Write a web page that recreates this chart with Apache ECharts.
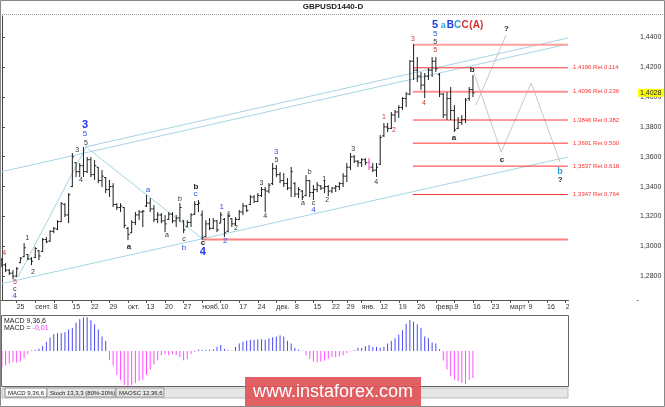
<!DOCTYPE html>
<html><head><meta charset="utf-8">
<script src="https://cdn.jsdelivr.net/npm/echarts@6/dist/echarts.min.js"></script>
<style>html,body{margin:0;padding:0;background:#fff}#c{width:665px;height:407px}</style>
</head><body><div id="c"></div>
<script>
// ---------------- DATA ----------------
const startDate = '2017-08-21';
const holidays = ['2017-12-25', '2018-01-01'];
const slotCount = 172;
const tickDates = ['2017-08-25','2017-09-01','2017-09-08','2017-09-15','2017-09-22','2017-09-29','2017-10-06','2017-10-13','2017-10-20','2017-10-27','2017-11-03','2017-11-10','2017-11-17','2017-11-24','2017-12-01','2017-12-08','2017-12-15','2017-12-22','2017-12-29','2018-01-05','2018-01-12','2018-01-19','2018-01-26','2018-02-02','2018-02-09','2018-02-16','2018-02-23','2018-03-02','2018-03-09','2018-03-16','2018-03-23'];
const tickLabels = ['25','сент.','8','15','22','29','окт.','13','20','27','нояб.','10','17','24','дек.','8','15','22','29','янв.','12','19','26','февр.','9','16','23','март','9','16','23'];
const priceTicks = [1.28,1.30,1.32,1.34,1.36,1.38,1.40,1.42,1.44];

const opens = [1.2910,1.2875,1.2840,1.2820,1.2800,1.2890,1.2930,1.2945,1.2915,1.2925,1.2970,1.2965,1.3045,1.3035,1.3100,1.3115,1.3165,1.3280,1.3210,1.3400,
1.3560,1.3500,1.3540,1.3500,1.3580,1.3480,1.3530,1.3440,1.3460,1.3380,1.3400,1.3280,1.3260,1.3260,1.3120,1.3090,1.3160,1.3210,1.3230,1.3270,
1.3290,1.3250,1.3180,1.3210,1.3170,1.3180,1.3215,1.3170,1.3190,1.3170,1.3130,1.3160,1.3215,1.3280,1.3210,1.3065,1.3150,1.3120,1.3170,1.3155,
1.3180,1.3100,1.3185,1.3150,1.3180,1.3230,1.3270,1.3280,1.3330,1.3300,1.3340,1.3380,1.3370,1.3420,1.3520,1.3480,1.3440,1.3420,1.3390,1.3420,
1.3350,1.3370,1.3340,1.3440,1.3360,1.3380,1.3405,1.3390,1.3400,1.3370,1.3390,1.3400,1.3420,1.3470,1.3530,1.3600,1.3570,1.3560,1.3580,1.3560,
1.3530,1.3510,1.3550,1.3740,1.3800,1.3790,1.3880,1.3900,1.3930,1.3990,1.4020,1.4240,1.4180,1.4140,1.4080,1.4140,1.4180,1.4240,1.4150,1.4020,
1.3880,1.3990,1.3910,1.3790,1.3830,1.3850,1.3990,1.4050];
const highs = [1.2921,1.2887,1.2847,1.2840,1.2860,1.2927,1.3021,1.2948,1.2927,1.2995,1.2974,1.3055,1.3062,1.3108,1.3129,1.3175,1.3296,1.3289,1.3356,1.3625,
1.3564,1.3558,1.3665,1.3598,1.3598,1.3578,1.3531,1.3511,1.3464,1.3444,1.3423,1.3289,1.3289,1.3263,1.3129,1.3175,1.3229,1.3243,1.3243,1.3343,
1.3323,1.3276,1.3229,1.3222,1.3209,1.3229,1.3229,1.3209,1.3289,1.3175,1.3175,1.3222,1.3303,1.3310,1.3240,1.3175,1.3189,1.3189,1.3175,1.3229,
1.3189,1.3222,1.3189,1.3196,1.3243,1.3289,1.3276,1.3343,1.3343,1.3356,1.3397,1.3397,1.3423,1.3558,1.3544,1.3497,1.3490,1.3457,1.3531,1.3430,
1.3397,1.3377,1.3477,1.3444,1.3410,1.3430,1.3410,1.3444,1.3410,1.3397,1.3410,1.3430,1.3490,1.3558,1.3625,1.3611,1.3578,1.3591,1.3591,1.3591,
1.3558,1.3558,1.3745,1.3826,1.3826,1.3899,1.3913,1.3946,1.4000,1.4033,1.4248,1.4355,1.4268,1.4167,1.4161,1.4194,1.4268,1.4268,1.4161,1.4027,
1.4033,1.4067,1.3946,1.3866,1.3879,1.3993,1.4067,1.4147];
const lows = [1.2860,1.2827,1.2807,1.2780,1.2793,1.2887,1.2927,1.2907,1.2874,1.2921,1.2907,1.2961,1.3021,1.3028,1.3088,1.3108,1.3162,1.3196,1.3155,1.3397,
1.3464,1.3464,1.3464,1.3490,1.3464,1.3444,1.3423,1.3397,1.3356,1.3330,1.3263,1.3243,1.3229,1.3122,1.3041,1.3088,1.3142,1.3175,1.3129,1.3263,
1.3229,1.3162,1.3155,1.3155,1.3095,1.3175,1.3155,1.3129,1.3162,1.3088,1.3129,1.3129,1.3209,1.3229,1.3041,1.3060,1.3108,1.3115,1.3095,1.3155,
1.3062,1.3095,1.3129,1.3136,1.3175,1.3209,1.3229,1.3276,1.3289,1.3296,1.3330,1.3229,1.3356,1.3410,1.3464,1.3423,1.3397,1.3377,1.3330,1.3330,
1.3323,1.3310,1.3336,1.3330,1.3310,1.3363,1.3377,1.3356,1.3336,1.3356,1.3363,1.3377,1.3397,1.3430,1.3511,1.3558,1.3531,1.3531,1.3544,1.3511,
1.3497,1.3464,1.3544,1.3732,1.3765,1.3785,1.3832,1.3859,1.3913,1.3933,1.4013,1.4114,1.4100,1.4047,1.3993,1.4114,1.4134,1.4167,1.4000,1.3859,
1.3846,1.3846,1.3765,1.3785,1.3812,1.3826,1.3975,1.4000];
const closes = [1.2875,1.2840,1.2820,1.2800,1.2850,1.2920,1.2990,1.2915,1.2900,1.2985,1.2935,1.3045,1.3030,1.3100,1.3120,1.3165,1.3285,1.3210,1.3345,1.3600,
1.3500,1.3540,1.3500,1.3580,1.3480,1.3540,1.3440,1.3470,1.3380,1.3400,1.3280,1.3260,1.3270,1.3140,1.3080,1.3160,1.3210,1.3230,1.3235,1.3290,
1.3250,1.3180,1.3210,1.3170,1.3150,1.3215,1.3170,1.3190,1.3260,1.3110,1.3160,1.3210,1.3280,1.3290,1.3060,1.3150,1.3120,1.3170,1.3110,1.3210,
1.3090,1.3200,1.3150,1.3180,1.3230,1.3270,1.3240,1.3330,1.3300,1.3340,1.3380,1.3370,1.3410,1.3520,1.3480,1.3440,1.3420,1.3390,1.3500,1.3350,
1.3380,1.3330,1.3440,1.3360,1.3380,1.3410,1.3390,1.3400,1.3370,1.3390,1.3400,1.3420,1.3470,1.3530,1.3600,1.3570,1.3560,1.3580,1.3560,1.3530,
1.3510,1.3530,1.3730,1.3800,1.3790,1.3880,1.3900,1.3930,1.3990,1.4020,1.4240,1.4180,1.4140,1.4080,1.4140,1.4180,1.4240,1.4190,1.4020,1.3880,
1.3990,1.3910,1.3780,1.3830,1.3850,1.3980,1.4050,1.4028];
const markedBar = 99;

const macd = [-0.0064,-0.0056,-0.0048,-0.0044,-0.0044,-0.0040,-0.0028,-0.0012,0.0002,
0.0004,0.0009,0.0019,0.0036,0.0052,0.0065,0.0069,0.0069,0.0073,0.0083,0.0089,0.0109,0.0123,0.0130,0.0130,0.0119,0.0103,0.0083,0.0056,0.0039,
-0.0036,-0.0056,-0.0092,-0.0112,-0.0132,-0.0136,-0.0132,-0.0124,-0.0116,-0.0112,-0.0092,-0.0072,-0.0052,-0.0036,-0.0016,-0.0012,-0.0016,-0.0012,-0.0016,-0.0024,-0.0036,-0.0032,-0.0012,-0.0004,
0.0005,0.0003,0.0004,0.0005,0.0007,0.0016,0.0023,0.0009,0.0003,0.0001,0.0016,0.0029,0.0036,0.0040,0.0043,0.0043,0.0045,0.0045,0.0043,0.0049,0.0053,0.0056,0.0060,0.0056,0.0039,0.0029,0.0012,0.0005,0.0001,
-0.0017,-0.0031,-0.0041,-0.0044,-0.0041,-0.0037,-0.0031,-0.0024,-0.0024,-0.0020,-0.0017,-0.0008,-0.0002,
0.0003,0.0012,0.0012,0.0019,0.0023,0.0016,0.0016,0.0012,0.0016,0.0029,0.0039,0.0049,0.0063,0.0080,0.0105,0.0119,0.0113,0.0103,0.0089,0.0056,0.0049,0.0033,0.0029,0.0007,
-0.0037,-0.0071,-0.0097,-0.0111,-0.0117,-0.0124,-0.0127,-0.0111,-0.0104];

// annotation lines (bar index, price)
const channelUpperA = [[-0.5,1.3497],[152.6,1.4355]];
const channelUpperB = [[22.4,1.3665],[152.6,1.4395]];
const channelLower = [[-0.5,1.2747],[152.6,1.3598]];
const zigzag = [[4.35,1.2793],[22.7,1.3665],[54.2,1.3048]];
const projectionMain = [[127.3,1.4161],[134.6,1.3631],[142.7,1.4094],[150.5,1.3564]];
const projectionAlt = [[127.8,1.3946],[135.9,1.4415]];
const fibFrom = 110.8, fibTo = 152.6;
const fibLevels = [1.4196,1.4036,1.3846,1.3691,1.3537,1.3347];
const fibRatios = ['0.114','0.236','0.382','0.500','0.618','0.764'];
const topLevel = 1.4351;
const supportLevel = 1.3046, supportFrom = 54.2;
const fibLabelAt = 154.0;

// wave labels: [index, price, text, style]
const waveLabels = [
 [0.6,1.2954,'4','r'],[3.5,1.2760,'5','r'],[3.5,1.2713,'c','k'],[3.5,1.2666,'4','b'],
 [6.8,1.3055,'1','k'],[8.4,1.2827,'2','k'],[20.3,1.3645,'3','k'],
 [22.4,1.3812,'3','B'],[22.4,1.3752,'5','b'],[22.7,1.3692,'5','k'],[21.3,1.3444,'4','k'],
 [34.3,1.2999,'a','kb'],[39.4,1.3377,'a','b'],[44.5,1.3075,'a','k'],[48.0,1.3316,'b','k'],
 [49.1,1.3048,'c','k'],[49.1,1.2988,'b','b'],[52.3,1.3397,'b','kb'],[52.3,1.3350,'c','b'],
 [54.2,1.3021,'c','kb'],[54.2,1.2961,'4','B'],
 [59.3,1.3263,'1','b'],[60.2,1.3035,'2','b'],[61.2,1.3216,'1','k'],[63.1,1.3122,'2','k'],
 [70.0,1.3423,'3','k'],[71.0,1.3202,'4','k'],[74.0,1.3631,'3','b'],[74.0,1.3578,'5','k'],
 [81.2,1.3289,'a','k'],[83.0,1.3497,'b','k'],[84.0,1.3289,'c','k'],[84.0,1.3243,'4','b'],
 [86.9,1.3450,'1','k'],[87.7,1.3310,'2','k'],[94.7,1.3651,'3','k'],[100.9,1.3430,'4','k'],
 [103.0,1.3866,'1','r'],[105.7,1.3779,'2','r'],[110.8,1.4389,'3','r'],[113.8,1.3960,'4','r'],
 [116.8,1.4315,'5','r'],[116.8,1.4368,'5','k'],[116.8,1.4422,'5','b'],
 [116.8,1.4482,'5','B'],[119.0,1.4482,'a','lb'],[120.9,1.4482,'B','Bm'],[122.9,1.4482,'C','lbm'],[124.9,1.4482,'C','rb'],[127.9,1.4482,'(A)','rb'],
 [126.8,1.4185,'b','kb'],[121.9,1.3730,'a','kb'],[134.8,1.3578,'c','kb'],
 [150.5,1.3499,'b','lb'],[150.5,1.3448,'?','kb'],[136.0,1.4460,'?','kb']
];

// ---------------- CHART ----------------
const FONT = '"Liberation Sans", Arial, sans-serif';
const labelStyles = {
  k:{fill:'#333', font:'7px '+FONT},
  kb:{fill:'#222', font:'bold 8px '+FONT},
  r:{fill:'#cc3333', font:'7px '+FONT},
  b:{fill:'#3050e0', font:'8px '+FONT},
  B:{fill:'#2038e8', font:'bold 11px '+FONT},
  Bm:{fill:'#2038e8', font:'bold 10px '+FONT},
  lb:{fill:'#2aa0e0', font:'bold 9px '+FONT},
  lbm:{fill:'#2aa0e0', font:'bold 10px '+FONT},
  rb:{fill:'#dd3030', font:'bold 10px '+FONT}
};

function buildDays(n){
  const out=[]; const d=new Date(startDate+'T00:00:00Z');
  while(out.length<n){
    const wd=d.getUTCDay(); const s=d.toISOString().slice(0,10);
    if(wd!==0 && wd!==6 && holidays.indexOf(s)<0) out.push(s);
    d.setUTCDate(d.getUTCDate()+1);
  }
  return out;
}
const days = buildDays(slotCount);
const tickIdx = tickDates.map(d=>days.indexOf(d));
const fmtPrice = v => v.toFixed(4).replace('.', ',');

const chart = echarts.init(document.getElementById('c'), null, {renderer:'canvas'});

function lineSeries(data, color, width){
  return {type:'line', xAxisIndex:0, yAxisIndex:0, data:data, symbol:'none', silent:true,
    lineStyle:{color:color, width:width||1}, z:1, animation:false};
}

const series = [
  lineSeries(channelUpperA, '#a6d4e4'),
  lineSeries(channelUpperB, '#a6d4e4'),
  lineSeries(channelLower, '#a6d4e4'),
  lineSeries(zigzag, '#a6d4e4'),
  lineSeries(projectionMain, '#c8c8c8'),
  lineSeries(projectionAlt, '#c8c8c8'),
  lineSeries([[fibFrom,topLevel],[fibTo,topLevel]], '#ffa0a0', 2),
  lineSeries([[supportFrom,supportLevel],[fibTo,supportLevel]], '#ff8080', 2)
];
fibLevels.forEach((lv,k)=>{
  series.push(lineSeries([[fibFrom,lv],[fibTo,lv]], k===1?'#ff9090':'#ff3333', k===1?2:1));
});

// OHLC bars
series.push({
  type:'custom', xAxisIndex:0, yAxisIndex:0, z:3, silent:true, animation:false,
  data: opens.map((o,i)=>[i,o,highs[i],lows[i],closes[i]]),
  encode:{x:0, y:[1,2,3,4]},
  renderItem:(p,api)=>{
    const i=api.value(0);
    const pO=api.coord([i,api.value(1)]), pH=api.coord([i,api.value(2)]);
    const pL=api.coord([i,api.value(3)]), pC=api.coord([i,api.value(4)]);
    const x=pH[0]; const col = (i===markedBar)?'#ff33cc':'#1e1e1e';
    const st={stroke:col, lineWidth:1};
    return {type:'group', children:[
      {type:'line', shape:{x1:x,y1:pH[1],x2:x,y2:pL[1]}, style:st},
      {type:'line', shape:{x1:x-1.7,y1:pO[1],x2:x,y2:pO[1]}, style:st},
      {type:'line', shape:{x1:x,y1:pC[1],x2:x+1.7,y2:pC[1]}, style:st}
    ]};
  }
});

// wave labels
series.push({
  type:'custom', xAxisIndex:0, yAxisIndex:0, z:5, silent:true, animation:false, clip:false,
  data: waveLabels.map(w=>[w[0],w[1]]),
  renderItem:(p,api)=>{
    const w=waveLabels[p.dataIndex]; const pt=api.coord([api.value(0),api.value(1)]);
    const s=labelStyles[w[3]];
    return {type:'text', x:pt[0], y:pt[1], style:{text:w[2], fill:s.fill, font:s.font, align:'center', verticalAlign:'middle'}};
  }
});

// fib labels
series.push({
  type:'custom', xAxisIndex:0, yAxisIndex:0, z:5, silent:true, animation:false, clip:false,
  data: fibLevels.map(lv=>[fibLabelAt, lv]),
  renderItem:(p,api)=>{
    const pt=api.coord([api.value(0),api.value(1)]);
    return {type:'text', x:pt[0], y:pt[1], style:{text:fmtPrice(fibLevels[p.dataIndex])+' Ret '+fibRatios[p.dataIndex],
      fill:'#ff3030', font:'6px '+FONT, align:'left', verticalAlign:'middle'}};
  }
});

// current price tag
series.push({
  type:'custom', xAxisIndex:0, yAxisIndex:0, z:10, silent:true, animation:false, clip:false,
  data:[[0, closes[closes.length-1]]],
  renderItem:(p,api)=>{
    const y=api.coord([0,api.value(1)])[1]; const x=p.coordSys.x+p.coordSys.width;
    return {type:'group', children:[
      {type:'rect', shape:{x:x,y:y-4,width:27,height:8}, style:{fill:'#ffff00'}},
      {type:'text', x:x+2, y:y, style:{text:fmtPrice(api.value(1)), fill:'#222', font:'7px '+FONT, align:'left', verticalAlign:'middle'}}
    ]};
  }
});

// MACD histogram
series.push({
  type:'custom', xAxisIndex:1, yAxisIndex:1, z:3, silent:true, animation:false,
  data: macd.map((v,i)=>[i,v]),
  renderItem:(p,api)=>{
    const i=api.value(0), v=api.value(1);
    const a=api.coord([i,0]), b=api.coord([i,v]);
    return {type:'line', shape:{x1:a[0],y1:a[1],x2:b[0],y2:b[1]}, style:{stroke: v>=0?'#4a4af0':'#ff4cff', lineWidth:1}};
  }
});

const option = {
  animation:false,
  backgroundColor:'#ffffff',
  grid:[{left:0,right:27,top:16,height:284},{left:0,right:27,top:316,height:71}],
  xAxis:[
    {type:'value', gridIndex:0, min:-0.5, max:slotCount-0.5, splitLine:{show:false},
     axisLine:{show:true, lineStyle:{color:'#555',width:1}},
     axisTick:{show:true, customValues:tickIdx, length:3, lineStyle:{color:'#555'}},
     axisLabel:{show:true, customValues:tickIdx, align:'left', margin:4, fontSize:7, fontFamily:FONT, color:'#333',
       formatter:v=>{const k=tickIdx.indexOf(Math.round(v)); return k>=0?tickLabels[k]:'';}}},
    {type:'value', gridIndex:1, min:-0.5, max:slotCount-0.5, show:false}
  ],
  yAxis:[
    {type:'value', gridIndex:0, position:'right', min:1.2640, max:1.4543, splitLine:{show:false},
     axisLine:{show:true, lineStyle:{color:'#444'}},
     axisTick:{show:true, customValues:priceTicks, length:3, lineStyle:{color:'#444'}},
     axisLabel:{customValues:priceTicks, margin:2, fontSize:7, fontFamily:FONT, color:'#333', formatter:fmtPrice}},
    {type:'value', gridIndex:1, min:-0.0139, max:0.0135, show:false}
  ],
  series: series,
  graphic:[
    {type:'rect', shape:{x:569,y:299,width:68,height:16}, style:{fill:'#fff'}, z:50},
    {type:'line', shape:{x1:0,y1:14.5,x2:665,y2:14.5}, style:{stroke:'#999',lineDash:[1,1]}, z:50},
    {type:'text', x:333, y:7, style:{text:'GBPUSD1440-D', font:'bold 8px '+FONT, fill:'#222', align:'center', verticalAlign:'middle'}, z:50},
    {type:'rect', shape:{x:1.5,y:315.5,width:567,height:71}, style:{fill:'none',stroke:'#666',lineWidth:1}, z:50},
    {type:'text', x:4, y:321, style:{text:'MACD 9,36,6', font:'7px '+FONT, fill:'#222', align:'left', verticalAlign:'middle'}, z:50},
    {type:'text', x:4, y:328, style:{text:'{a|MACD = }{m|-0,01}', font:'7px '+FONT, align:'left', verticalAlign:'middle',
      rich:{a:{fill:'#222', font:'7px '+FONT}, m:{fill:'#ff33ff', font:'7px '+FONT}}}, z:50},
    {type:'rect', shape:{x:2,y:388,width:566,height:10}, style:{fill:'#e6e6e6', stroke:'#bbb'}, z:50},
    {type:'rect', shape:{x:5,y:388,width:42,height:9}, style:{fill:'#fafafa', stroke:'#888'}, z:51},
    {type:'text', x:8, y:393, style:{text:'MACD 9,36,6', font:'6px '+FONT, fill:'#222', align:'left', verticalAlign:'middle'}, z:52},
    {type:'rect', shape:{x:47,y:388,width:69,height:9}, style:{fill:'#e6e6e6', stroke:'#999'}, z:51},
    {type:'text', x:50, y:393, style:{text:'Stoch 13,3,3 (80%-20%)', font:'6px '+FONT, fill:'#222', align:'left', verticalAlign:'middle'}, z:52},
    {type:'rect', shape:{x:116,y:388,width:48,height:9}, style:{fill:'#e6e6e6', stroke:'#999'}, z:51},
    {type:'text', x:119, y:393, style:{text:'MAOSC 12,36,6', font:'6px '+FONT, fill:'#222', align:'left', verticalAlign:'middle'}, z:52},
    {type:'rect', shape:{x:245,y:377,width:176,height:30}, style:{fill:'rgba(222,84,88,0.92)'}, z:60},
    {type:'text', x:333, y:392, style:{text:'www.instaforex.com', font:'18px '+FONT, fill:'#ffffff', align:'center', verticalAlign:'middle'}, z:61},
    {type:'rect', shape:{x:0.5,y:0.5,width:664,height:406}, style:{fill:'none',stroke:'#888'}, z:70}
  ]
};
chart.setOption(option);
</script></body></html>
